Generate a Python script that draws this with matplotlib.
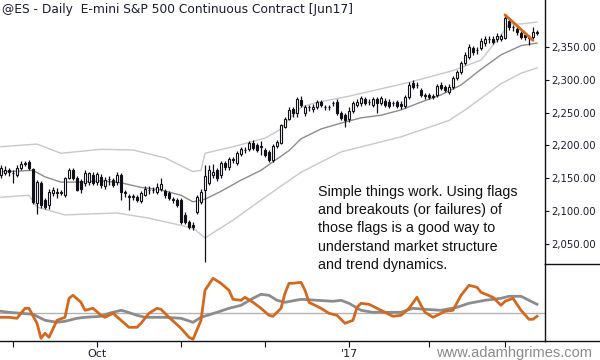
import numpy as np
import pandas as pd
import matplotlib
matplotlib.use("Agg")
import matplotlib.pyplot as plt
from matplotlib.lines import Line2D

# ---------------- data ----------------
holidays = ["2016-09-05", "2016-11-24", "2016-12-26", "2017-01-02", "2017-01-16", "2017-02-20"]
dates = pd.bdate_range("2016-08-29", "2017-03-13")
dates = dates[~dates.isin(pd.to_datetime(holidays))]

opens = [2155, 2158, 2163, 2158, 2155, 2165, 2172, 2174, 2164, 2112,
         2143, 2117, 2109, 2127, 2128, 2128, 2125, 2150, 2162, 2150,
         2145, 2142, 2144, 2155, 2144, 2152, 2138, 2148, 2147, 2144,
         2155, 2128, 2122, 2122, 2122, 2115, 2125, 2132, 2132, 2129,
         2134, 2130, 2127, 2117, 2117, 2117, 2094, 2083, 2079, 2098,
         2113, 2132, 2143, 2155, 2162, 2155, 2173, 2167, 2178, 2173,
         2187, 2193, 2195, 2204, 2201, 2198, 2193, 2190, 2178, 2199,
         2204, 2228, 2240, 2256, 2249, 2269, 2249, 2258, 2255, 2259,
         2266, 2258, 2258, 2264, 2266, 2249, 2246, 2240, 2253, 2262,
         2264, 2271, 2266, 2262, 2271, 2264, 2268, 2266, 2264, 2266,
         2263, 2260, 2274, 2295, 2292, 2284, 2276, 2277, 2274, 2277,
         2292, 2289, 2281, 2289, 2303, 2312, 2326, 2334, 2348, 2345,
         2348, 2356, 2362, 2362, 2362, 2362, 2364, 2389, 2380, 2378,
         2371, 2368, 2364, 2365, 2372]
highs = [2170, 2168, 2166, 2162, 2170, 2176, 2176, 2178, 2166, 2147,
         2146, 2120, 2134, 2136, 2135, 2132, 2152, 2166, 2165, 2153,
         2148, 2162, 2160, 2160, 2160, 2156, 2152, 2153, 2150, 2160,
         2158, 2132, 2126, 2126, 2124, 2130, 2138, 2138, 2137, 2143,
         2150, 2133, 2130, 2122, 2120, 2120, 2098, 2086, 2083, 2124,
         2134, 2170, 2170, 2172, 2166, 2176, 2176, 2182, 2182, 2192,
         2198, 2197, 2207, 2208, 2204, 2207, 2196, 2193, 2202, 2208,
         2233, 2243, 2258, 2258, 2273, 2275, 2262, 2262, 2263, 2269,
         2269, 2262, 2262, 2268, 2270, 2252, 2250, 2258, 2268, 2270,
         2275, 2274, 2270, 2274, 2274, 2276, 2272, 2270, 2268, 2269,
         2267, 2277, 2296, 2300, 2297, 2288, 2280, 2280, 2278, 2293,
         2296, 2292, 2293, 2306, 2315, 2329, 2342, 2354, 2352, 2350,
         2364, 2366, 2367, 2367, 2371, 2370, 2400, 2392, 2384, 2382,
         2374, 2372, 2368, 2380, 2376]
lows = [2150, 2155, 2154, 2143, 2152, 2162, 2168, 2163, 2110, 2095,
        2105, 2103, 2103, 2123, 2120, 2124, 2122, 2148, 2147, 2130,
        2128, 2138, 2140, 2140, 2140, 2135, 2134, 2140, 2136, 2140,
        2117, 2122, 2102, 2116, 2114, 2112, 2123, 2126, 2128, 2126,
        2130, 2120, 2116, 2112, 2106, 2080, 2080, 2073, 2071, 2096,
        2110, 2022, 2140, 2150, 2146, 2150, 2163, 2163, 2173, 2170,
        2184, 2189, 2192, 2193, 2190, 2186, 2182, 2175, 2175, 2196,
        2202, 2226, 2238, 2243, 2243, 2258, 2245, 2252, 2251, 2255,
        2258, 2254, 2254, 2260, 2246, 2238, 2228, 2236, 2250, 2258,
        2260, 2262, 2262, 2259, 2249, 2262, 2259, 2257, 2260, 2257,
        2256, 2257, 2271, 2286, 2287, 2274, 2271, 2270, 2270, 2274,
        2285, 2282, 2279, 2286, 2300, 2309, 2323, 2331, 2338, 2340,
        2345, 2352, 2356, 2354, 2358, 2359, 2362, 2376, 2374, 2369,
        2362, 2361, 2353, 2362, 2369]
closes = [2165, 2163, 2160, 2158, 2166, 2172, 2172, 2166, 2113, 2144,
          2109, 2106, 2129, 2132, 2128, 2128, 2150, 2162, 2150, 2132,
          2134, 2158, 2158, 2143, 2157, 2140, 2147, 2148, 2140, 2155,
          2129, 2128, 2122, 2122, 2117, 2128, 2134, 2132, 2132, 2137,
          2141, 2124, 2120, 2117, 2109, 2083, 2083, 2076, 2076, 2121,
          2129, 2153, 2162, 2160, 2150, 2173, 2167, 2180, 2178, 2188,
          2195, 2193, 2204, 2196, 2193, 2198, 2185, 2178, 2199, 2205,
          2231, 2240, 2254, 2249, 2270, 2261, 2258, 2258, 2259, 2266,
          2262, 2258, 2258, 2264, 2249, 2242, 2239, 2253, 2265, 2266,
          2272, 2265, 2266, 2271, 2264, 2272, 2262, 2260, 2264, 2260,
          2260, 2274, 2292, 2289, 2292, 2277, 2276, 2273, 2274, 2290,
          2288, 2285, 2289, 2303, 2312, 2326, 2338, 2350, 2342, 2345,
          2359, 2362, 2362, 2358, 2367, 2366, 2394, 2380, 2380, 2373,
          2365, 2365, 2364, 2373, 2372]

# Keltner channel lines (bar index, price)
mid_idx = [0, 5, 8, 11, 15, 20, 25, 30, 35, 40, 45, 48, 51, 55, 60, 65, 68, 72, 75, 80,
           85, 90, 95, 100, 105, 110, 115, 120, 125, 130, 134]
mid_val = [2160, 2161, 2162, 2152, 2144, 2144, 2146, 2143, 2136, 2132, 2124, 2114, 2118, 2130,
           2147, 2162, 2175, 2192, 2210, 2225, 2234, 2242, 2246, 2254, 2266, 2277, 2292, 2316,
           2338, 2352, 2356]
up_idx = [0, 9, 15, 25, 33, 41, 48, 50, 51, 58, 66, 70, 72, 75, 78, 87, 102, 113, 120, 125,
          127, 130, 134]
up_val = [2198, 2202, 2188, 2194, 2193, 2181, 2160, 2162, 2188, 2198, 2211, 2225, 2240, 2258,
          2264, 2275, 2296, 2314, 2330, 2368, 2385, 2385, 2388]
lo_idx = [0, 7, 9, 16, 29, 37, 48, 51, 58, 66, 75, 85, 100, 112, 116, 125, 130, 134]
lo_val = [2121, 2124, 2106, 2094, 2097, 2089, 2074, 2059, 2086, 2121, 2159, 2190, 2213, 2238,
          2254, 2294, 2310, 2318]

# flag trendline
flag_idx = [126, 133]
flag_val = [2399, 2360]

# oscillator (fast = orange, slow = gray)
fast_idx = [0, 2, 4, 6, 7, 9, 10, 11, 12, 14, 16, 17, 18, 20, 21, 23, 25, 26, 28, 30, 32, 34,
            35, 37, 39, 40, 42, 45, 47, 48, 50, 51, 53, 55, 57, 58, 60, 61, 63, 65, 67, 68, 70,
            71, 72, 73, 75, 76, 77, 80, 82, 84, 86, 88, 89, 90, 92, 94, 95, 98, 100, 102, 104,
            105, 106, 108, 110, 111, 113, 115, 117, 119, 120, 123, 125, 126, 128, 130, 132,
            133, 134]
fast_val = [-4, -4, -5, 5, 5, -10, -25, -20, -24, -7, -4, 15, 18, 11, 3, 5, -2, -4, 0, -7,
            -14, -14, -10, 0, 5, 4, -4, -15, -24, -26, -7, 23, 35, 30, 23, 14, 13, 16, 11, 5,
            -2, -3, 5, 20, 30, 30, 31, 23, 11, 5, 0, -2, -10, -7, 6, 10, 9, 5, 3, -3, -2, 5,
            16, 8, 1, -4, 0, 2, 3, 18, 28, 26, 21, 16, 8, 12, 15, 3, -6, -6, -3]
slow_idx = [0, 2, 5, 8, 11, 14, 16, 19, 21, 25, 27, 30, 31, 34, 36, 41, 45, 48, 50, 54, 57,
            60, 63, 65, 67, 69, 71, 75, 79, 83, 85, 87, 90, 93, 100, 103, 106, 110, 114, 117,
            121, 125, 127, 130, 132, 134]
slow_val = [2, 1, 0, -1, -7, -9, -8, -5, -4, -3, 0, 3, 2, -2, -4, -4, -5, -9, -4, 1, 5, 8, 15,
            19, 18, 13, 11, 14, 13, 12, 13, 10, 3, 1, 1, 5, 4, 3, 6, 10, 13, 15, 17, 17, 13, 9]

price_ticks = [2050, 2100, 2150, 2200, 2250, 2300, 2350]

title = "@ES - Daily  E-mini S&P 500 Continuous Contract [Jun17]"
note = ("Simple things work. Using flags\nand breakouts (or failures) of\n"
        "those flags is a good way to\nunderstand market structure\nand trend dynamics.")
watermark = "www.adamhgrimes.com"

# ---------------- drawing ----------------
W, H = 600, 360
fig = plt.figure(figsize=(W / 100, H / 100), dpi=100)
fig.patch.set_facecolor("white")
osc = fig.add_axes([0, 19 / H, 545 / W, 77 / H])
ax = fig.add_axes([0, 96 / H, 545 / W, 264 / H])
ax.patch.set_alpha(0)
osc.patch.set_alpha(0)

n = len(closes)
idx = np.arange(n)
o = np.array(opens, float)
h = np.array(highs, float)
l = np.array(lows, float)
c = np.array(closes, float)

ink = "#101018"
txt = "#1a1a3a"
axis_font = ["DejaVu Sans Condensed", "DejaVu Sans"]

ax.plot(up_idx, up_val, color="#c8c8c8", lw=1.0, zorder=1)
ax.plot(lo_idx, lo_val, color="#c8c8c8", lw=1.0, zorder=1)
ax.plot(mid_idx, mid_val, color="#8c8c8c", lw=1.0, zorder=1)

ax.vlines(idx, l, h, color=ink, lw=0.9, zorder=2)
body_lo = np.minimum(o, c)
body_h = np.maximum(np.abs(c - o), 0.6)
fills = ["white" if cc >= oo else ink for oo, cc in zip(o, c)]
ax.bar(idx, body_h, bottom=body_lo, width=0.62, color=fills, edgecolor=ink,
       linewidth=0.8, zorder=3)

ax.plot(flag_idx, flag_val, color="#d2691e", lw=2.0, solid_capstyle="round", zorder=4)

ax.set_xlim(-0.25, 136)
ax.set_ylim(2019.2, 2421.6)
for s in ["top", "left", "bottom"]:
    ax.spines[s].set_visible(False)
ax.spines["right"].set_color(ink)
ax.spines["right"].set_linewidth(1.0)
ax.set_xticks([])
ax.yaxis.tick_right()
ax.set_yticks(price_ticks)
ax.set_yticklabels([f"{v:,.2f}" for v in price_ticks])
ax.tick_params(axis="y", direction="out", length=3, width=0.8, pad=1.5,
               labelsize=7.3, colors=ink, labelcolor=txt)
for t in ax.get_yticklabels():
    t.set_fontfamily(axis_font)

note_txt = ax.text(318 / 545, (264 - 185) / 264, note, transform=ax.transAxes, ha="left",
                   va="top", fontsize=10.3, family="Liberation Sans", color="#111111",
                   linespacing=1.38, zorder=6)
note_txt.set_clip_on(False)

# oscillator panel
osc.axhline(0, color="#b4b4b4", lw=1.0, zorder=1)
osc.plot(slow_idx, slow_val, color="#8c8c8c", lw=2.0, zorder=2)
osc.plot(fast_idx, fast_val, color="#d2691e", lw=2.0, zorder=3)
osc.set_xlim(-0.25, 136)
osc.set_ylim(-27.7, 49.3)
for s in ["top", "left"]:
    osc.spines[s].set_visible(False)
for s in ["right", "bottom"]:
    osc.spines[s].set_color(ink)
    osc.spines[s].set_linewidth(1.0)
osc.set_yticks([])

month_start = [i for i in range(1, n) if dates[i].month != dates[i - 1].month]
labels = []
for i in month_start:
    d = dates[i]
    if d.month == 10:
        labels.append("Oct")
    elif d.month == 1:
        labels.append("'" + d.strftime("%y"))
    else:
        labels.append("")
osc.set_xticks(month_start)
osc.set_xticklabels(labels)
osc.tick_params(axis="x", direction="out", length=4, width=0.8, pad=2,
                labelsize=8, colors=ink, labelcolor=txt)
for t in osc.get_xticklabels():
    t.set_fontfamily(axis_font)

# separators on the axis side
fig.add_artist(Line2D([545 / W, 1], [96 / H, 96 / H], color=ink, lw=1.0))
fig.add_artist(Line2D([545 / W, 1], [19 / H, 19 / H], color=ink, lw=1.0))

fig.text(2 / W, 1 - 10 / H, title, ha="left", va="center", fontsize=8.8,
         family=axis_font, color=txt)
fig.text(592 / W, 1 - 352.5 / H, watermark, ha="right", va="center", fontsize=10.5,
         family="Liberation Sans", color="#8a8a8a")

fig.savefig("out.png", dpi=100, facecolor="white")
